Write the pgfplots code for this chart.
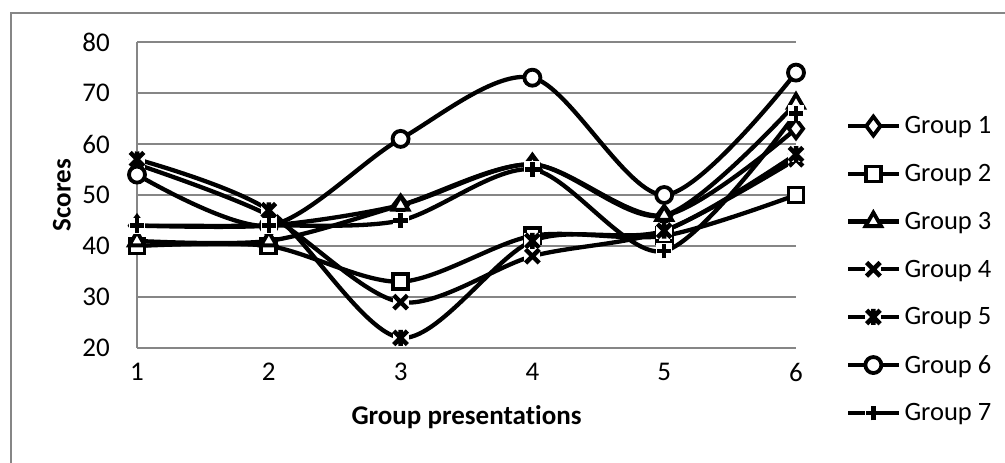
\documentclass[border=0pt]{standalone}
\usepackage{fontspec}
\setmainfont{Carlito}[Ligatures=NoCommon]
\usepackage{pgfplots}
\pgfplotsset{compat=1.18}
\definecolor{gridgray}{RGB}{134,134,134}

% Excel-like marks that blank out the line behind them
\pgfdeclareplotmark{wx}{%
  \pgfpathrectangle{\pgfqpoint{-\pgfplotmarksize}{-\pgfplotmarksize}}{\pgfqpoint{2\pgfplotmarksize}{2\pgfplotmarksize}}%
  \pgfsetfillcolor{white}\pgfusepathqfill
  \pgfsetlinewidth{4.5pt}%
  \pgfpathmoveto{\pgfqpoint{-.85\pgfplotmarksize}{-.85\pgfplotmarksize}}%
  \pgfpathlineto{\pgfqpoint{.85\pgfplotmarksize}{.85\pgfplotmarksize}}%
  \pgfpathmoveto{\pgfqpoint{-.85\pgfplotmarksize}{.85\pgfplotmarksize}}%
  \pgfpathlineto{\pgfqpoint{.85\pgfplotmarksize}{-.85\pgfplotmarksize}}%
  \pgfusepathqstroke}
\pgfdeclareplotmark{wstar}{%
  \pgfpathrectangle{\pgfqpoint{-\pgfplotmarksize}{-\pgfplotmarksize}}{\pgfqpoint{2\pgfplotmarksize}{2\pgfplotmarksize}}%
  \pgfsetfillcolor{white}\pgfusepathqfill
  \pgfsetlinewidth{4.5pt}%
  \pgfpathmoveto{\pgfqpoint{-.85\pgfplotmarksize}{-.85\pgfplotmarksize}}%
  \pgfpathlineto{\pgfqpoint{.85\pgfplotmarksize}{.85\pgfplotmarksize}}%
  \pgfpathmoveto{\pgfqpoint{-.85\pgfplotmarksize}{.85\pgfplotmarksize}}%
  \pgfpathlineto{\pgfqpoint{.85\pgfplotmarksize}{-.85\pgfplotmarksize}}%
  \pgfpathmoveto{\pgfqpoint{0pt}{-\pgfplotmarksize}}%
  \pgfpathlineto{\pgfqpoint{0pt}{\pgfplotmarksize}}%
  \pgfusepathqstroke}
\pgfdeclareplotmark{wplus}{%
  \pgfpathrectangle{\pgfqpoint{-\pgfplotmarksize}{-\pgfplotmarksize}}{\pgfqpoint{2\pgfplotmarksize}{2\pgfplotmarksize}}%
  \pgfsetfillcolor{white}\pgfusepathqfill
  \pgfsetlinewidth{4.5pt}%
  \pgfpathmoveto{\pgfqpoint{-.9\pgfplotmarksize}{0pt}}%
  \pgfpathlineto{\pgfqpoint{.9\pgfplotmarksize}{0pt}}%
  \pgfpathmoveto{\pgfqpoint{0pt}{-.9\pgfplotmarksize}}%
  \pgfpathlineto{\pgfqpoint{0pt}{.9\pgfplotmarksize}}%
  \pgfusepathqstroke}

\pgfplotstableread{
x g1 g2 g3 g4 g5 g6 g7
1 44 40 41 56 57 54 44
2 44 40 41 46 47 44 44
3 48 33 48 29 22 61 45
4 56 42 56 38 41 73 55
5 46 42 46 43 43 50 39
6 63 50 68 57 58 74 66
}\scores

\begin{document}
\begin{tikzpicture}[x=1pt,y=1pt]
\useasboundingbox (0,0) rectangle (1005,463);
\draw[gridgray, line width=1.3pt] (11,-10) -- (11,450) -- (1015,450);
\begin{axis}[
  at={(137pt,115pt)}, anchor=south west,
  scale only axis, width=659pt, height=306pt,
  xmin=1, xmax=6, ymin=20, ymax=80,
  xtick={1,...,6}, ytick={20,30,...,80},
  axis x line*=bottom, axis y line*=left,
  axis line style={gridgray, line width=1.3pt},
  major tick length=0pt,
  ymajorgrids, grid style={gridgray, line width=1.3pt},
  /pgf/number format/assume math mode=true,
  tick label style={font=\fontsize{27}{32}\selectfont, inner sep=0pt},
  yticklabel style={anchor=east, xshift=-27pt},
  xticklabel style={anchor=north, yshift=-15pt},
  xlabel={\bfseries Group presentations},
  ylabel={\bfseries Scores},
  label style={font=\fontsize{27}{32}\selectfont},
  xlabel style={at={(axis description cs:0.5,-0.226)}, anchor=center},
  ylabel style={at={(axis description cs:-0.114,0.5)}, anchor=center, rotate=0},
  every axis plot/.append style={black, line width=4.3pt, smooth},
  every axis plot post/.append style={mark options={solid, line width=3.8pt, fill=white}},
  mark size=8pt,
  legend image code/.code={\draw[mark repeat=2, mark phase=2, #1]
    plot coordinates {(0pt,0pt) (25pt,0pt) (50pt,0pt)};},
  legend cell align=left,
  legend style={at={(axis description cs:1.0759,0.757)}, anchor=north west,
    draw=none, fill=none, inner sep=0pt, row sep=29pt, column sep=4pt,
    font=\fontsize{26.5}{31}\selectfont, nodes={inner sep=0pt}},
]
\addplot[mark=diamond*, mark size=9.5pt] table[x=x, y=g1] {\scores};
\addlegendentry{Group 1}
\addplot[mark=square*, mark size=7.5pt] table[x=x, y=g2] {\scores};
\addlegendentry{Group 2}
\addplot[mark=triangle*, mark size=9pt] table[x=x, y=g3] {\scores};
\addlegendentry{Group 3}
\addplot[mark=wx] table[x=x, y=g4] {\scores};
\addlegendentry{Group 4}
\addplot[mark=wstar] table[x=x, y=g5] {\scores};
\addlegendentry{Group 5}
\addplot[mark=*] table[x=x, y=g6] {\scores};
\addlegendentry{Group 6}
\addplot[mark=wplus] table[x=x, y=g7] {\scores};
\addlegendentry{Group 7}
\end{axis}
\end{tikzpicture}
\end{document}
